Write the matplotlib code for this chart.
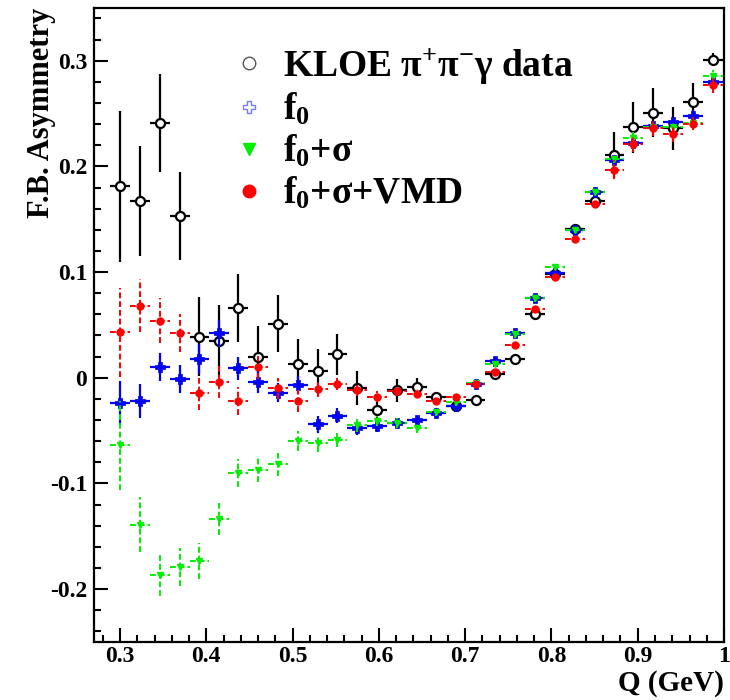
import matplotlib
matplotlib.use("Agg")
import matplotlib.pyplot as plt
from matplotlib.lines import Line2D
from matplotlib.ticker import MultipleLocator

plt.rcParams['font.family'] = ['Liberation Serif', 'DejaVu Serif']
plt.rcParams['font.weight'] = 'bold'
plt.rcParams['axes.labelweight'] = 'bold'
plt.rcParams['mathtext.default'] = 'regular'

# bin centres in Q (GeV) and half bin width
q = [0.300, 0.323, 0.346, 0.369, 0.392, 0.415, 0.437, 0.460, 0.483, 0.506,
     0.529, 0.552, 0.575, 0.598, 0.621, 0.644, 0.666, 0.689, 0.712, 0.735,
     0.758, 0.781, 0.804, 0.827, 0.850, 0.873, 0.895, 0.918, 0.941, 0.964,
     0.987]
q_err = 0.0115

# KLOE data
kloe = [0.181, 0.167, 0.241, 0.153, 0.039, 0.035, 0.066, 0.020, 0.051, 0.013,
        0.006, 0.022, -0.010, -0.031, -0.012, -0.009, -0.018, -0.027, -0.021, 0.004,
        0.018, 0.060, 0.098, 0.141, 0.167, 0.211, 0.237, 0.251, 0.236, 0.261,
        0.301]
kloe_err = [0.071, 0.052, 0.046, 0.042, 0.037, 0.034, 0.032, 0.029, 0.027, 0.024,
            0.021, 0.019, 0.016, 0.009, 0.011, 0.009, 0.004, 0.003, 0.002, 0.002,
            0.002, 0.002, 0.002, 0.002, 0.003, 0.022, 0.024, 0.023, 0.020, 0.018,
            0.006]

# f0 only
f0 = [-0.024, -0.022, 0.010, -0.001, 0.018, 0.042, 0.009, -0.004, -0.014, -0.007,
      -0.044, -0.036, -0.048, -0.046, -0.043, -0.040, -0.033, -0.027, -0.006, 0.016,
      0.042, 0.075, 0.099, 0.140, 0.176, 0.206, 0.222, 0.238, 0.242, 0.248,
      0.280]
f0_err = [0.021, 0.016, 0.0135, 0.013, 0.014, 0.0125, 0.011, 0.010, 0.009, 0.0087,
          0.008, 0.007, 0.006, 0.005, 0.005, 0.004, 0.004, 0.004, 0.003, 0.003,
          0.003, 0.003, 0.003, 0.003, 0.003, 0.004, 0.005, 0.005, 0.005, 0.005,
          0.005]

# f0 + sigma
f0s = [-0.064, -0.139, -0.187, -0.179, -0.173, -0.134, -0.090, -0.087, -0.082, -0.060,
       -0.062, -0.059, -0.045, -0.041, -0.043, -0.048, -0.032, -0.023, -0.005, 0.013,
       0.041, 0.075, 0.1045, 0.140, 0.176, 0.207, 0.227, 0.237, 0.237, 0.2415,
       0.286]
f0s_err = [0.042, 0.026, 0.020, 0.018, 0.017, 0.015, 0.0135, 0.012, 0.011, 0.0095,
           0.008, 0.007, 0.006, 0.005, 0.005, 0.004, 0.004, 0.004, 0.003, 0.003,
           0.003, 0.003, 0.003, 0.003, 0.003, 0.004, 0.006, 0.004, 0.004, 0.004,
           0.005]

# f0 + sigma + VMD
f0sv = [0.043, 0.068, 0.054, 0.042, -0.014, -0.004, -0.022, 0.010, -0.010, -0.022,
        -0.011, -0.006, -0.012, -0.018, -0.013, -0.015, -0.022, -0.018, -0.006, 0.005,
        0.031, 0.065, 0.095, 0.131, 0.164, 0.197, 0.221, 0.236, 0.231, 0.2405,
        0.277]
f0sv_err = [0.042, 0.025, 0.021, 0.018, 0.017, 0.015, 0.013, 0.011, 0.010, 0.010,
            0.007, 0.006, 0.005, 0.005, 0.004, 0.004, 0.003, 0.003, 0.003, 0.003,
            0.003, 0.003, 0.003, 0.003, 0.003, 0.009, 0.007, 0.007, 0.008, 0.006,
            0.008]

labels = ["KLOE $\\pi^{+}\\pi^{-}\\gamma$ data", "f$_0$", "f$_0$+$\\sigma$", "f$_0$+$\\sigma$+VMD"]

fig = plt.figure(figsize=(7.3, 7.0), dpi=100)
ax = fig.add_axes([0.129, 0.083, 0.8628, 0.9057])

# data first, then the three models
ax.errorbar(q, kloe, xerr=q_err, yerr=kloe_err, fmt='o', color='black', ms=6.5,
            mfc='white', mec='black', mew=1.6, elinewidth=1.6, capsize=0, zorder=3)
ax.errorbar(q, f0, xerr=q_err, yerr=f0_err, fmt='P', color='#0000ff', ms=7,
            mec='#0000cc', mew=0.5, elinewidth=1.6, capsize=0, zorder=4)
eb = ax.errorbar(q, f0s, xerr=q_err, yerr=f0s_err, fmt='v', color='#00ee00', ms=5,
                 elinewidth=1.4, capsize=0, zorder=5)
for c in eb[2]:
    c.set_linestyle((0, (3, 1.5)))
eb = ax.errorbar(q, f0sv, xerr=q_err, yerr=f0sv_err, fmt='o', color='#ff0000', ms=5,
                 elinewidth=1.4, capsize=0, zorder=6)
for c in eb[2]:
    c.set_linestyle((0, (3, 1.5)))

# legend with markers only
handles = [
    Line2D([], [], ls='none', marker='o', ms=9, mfc='white', mec='#555555', mew=1.0),
    Line2D([], [], ls='none', marker='P', ms=9, mfc='white', mec='#7777ff', mew=1.0),
    Line2D([], [], ls='none', marker='v', ms=9, color='#00ee00'),
    Line2D([], [], ls='none', marker='o', ms=9, color='#ff0000'),
]
ax.legend(handles, labels, loc='upper left', bbox_to_anchor=(0.222, 0.94),
          frameon=False, fontsize=27, handlelength=0.8, handletextpad=0.5,
          labelspacing=0.15, borderpad=0, borderaxespad=0)

ax.set_xlim(0.27, 1.0)
ax.set_ylim(-0.25, 0.35)
ax.xaxis.set_minor_locator(MultipleLocator(0.02))
ax.yaxis.set_minor_locator(MultipleLocator(0.02))
ax.set_xticks([0.3, 0.4, 0.5, 0.6, 0.7, 0.8, 0.9, 1.0])
ax.set_xticklabels(["0.3", "0.4", "0.5", "0.6", "0.7", "0.8", "0.9", "1"])
ax.set_yticks([-0.2, -0.1, 0, 0.1, 0.2, 0.3])
ax.set_yticklabels(["-0.2", "-0.1", "0", "0.1", "0.2", "0.3"])

ax.tick_params(which='both', direction='in', top=False, right=False, labelsize=17, width=1.5)
ax.tick_params(which='major', length=10)
ax.tick_params(which='minor', length=5)
ax.tick_params(axis='y', pad=5)
ax.tick_params(axis='x', pad=3)
for s in ax.spines.values():
    s.set_linewidth(1.6)

ax.set_xlabel("Q (GeV)", fontsize=21, loc='right')
ax.set_ylabel("F.B. Asymmetry", fontsize=22, loc='top')
ax.xaxis.set_label_coords(1.0, -0.045)
ax.yaxis.set_label_coords(-0.061, 1.0)

fig.savefig("out.png", dpi=100)
